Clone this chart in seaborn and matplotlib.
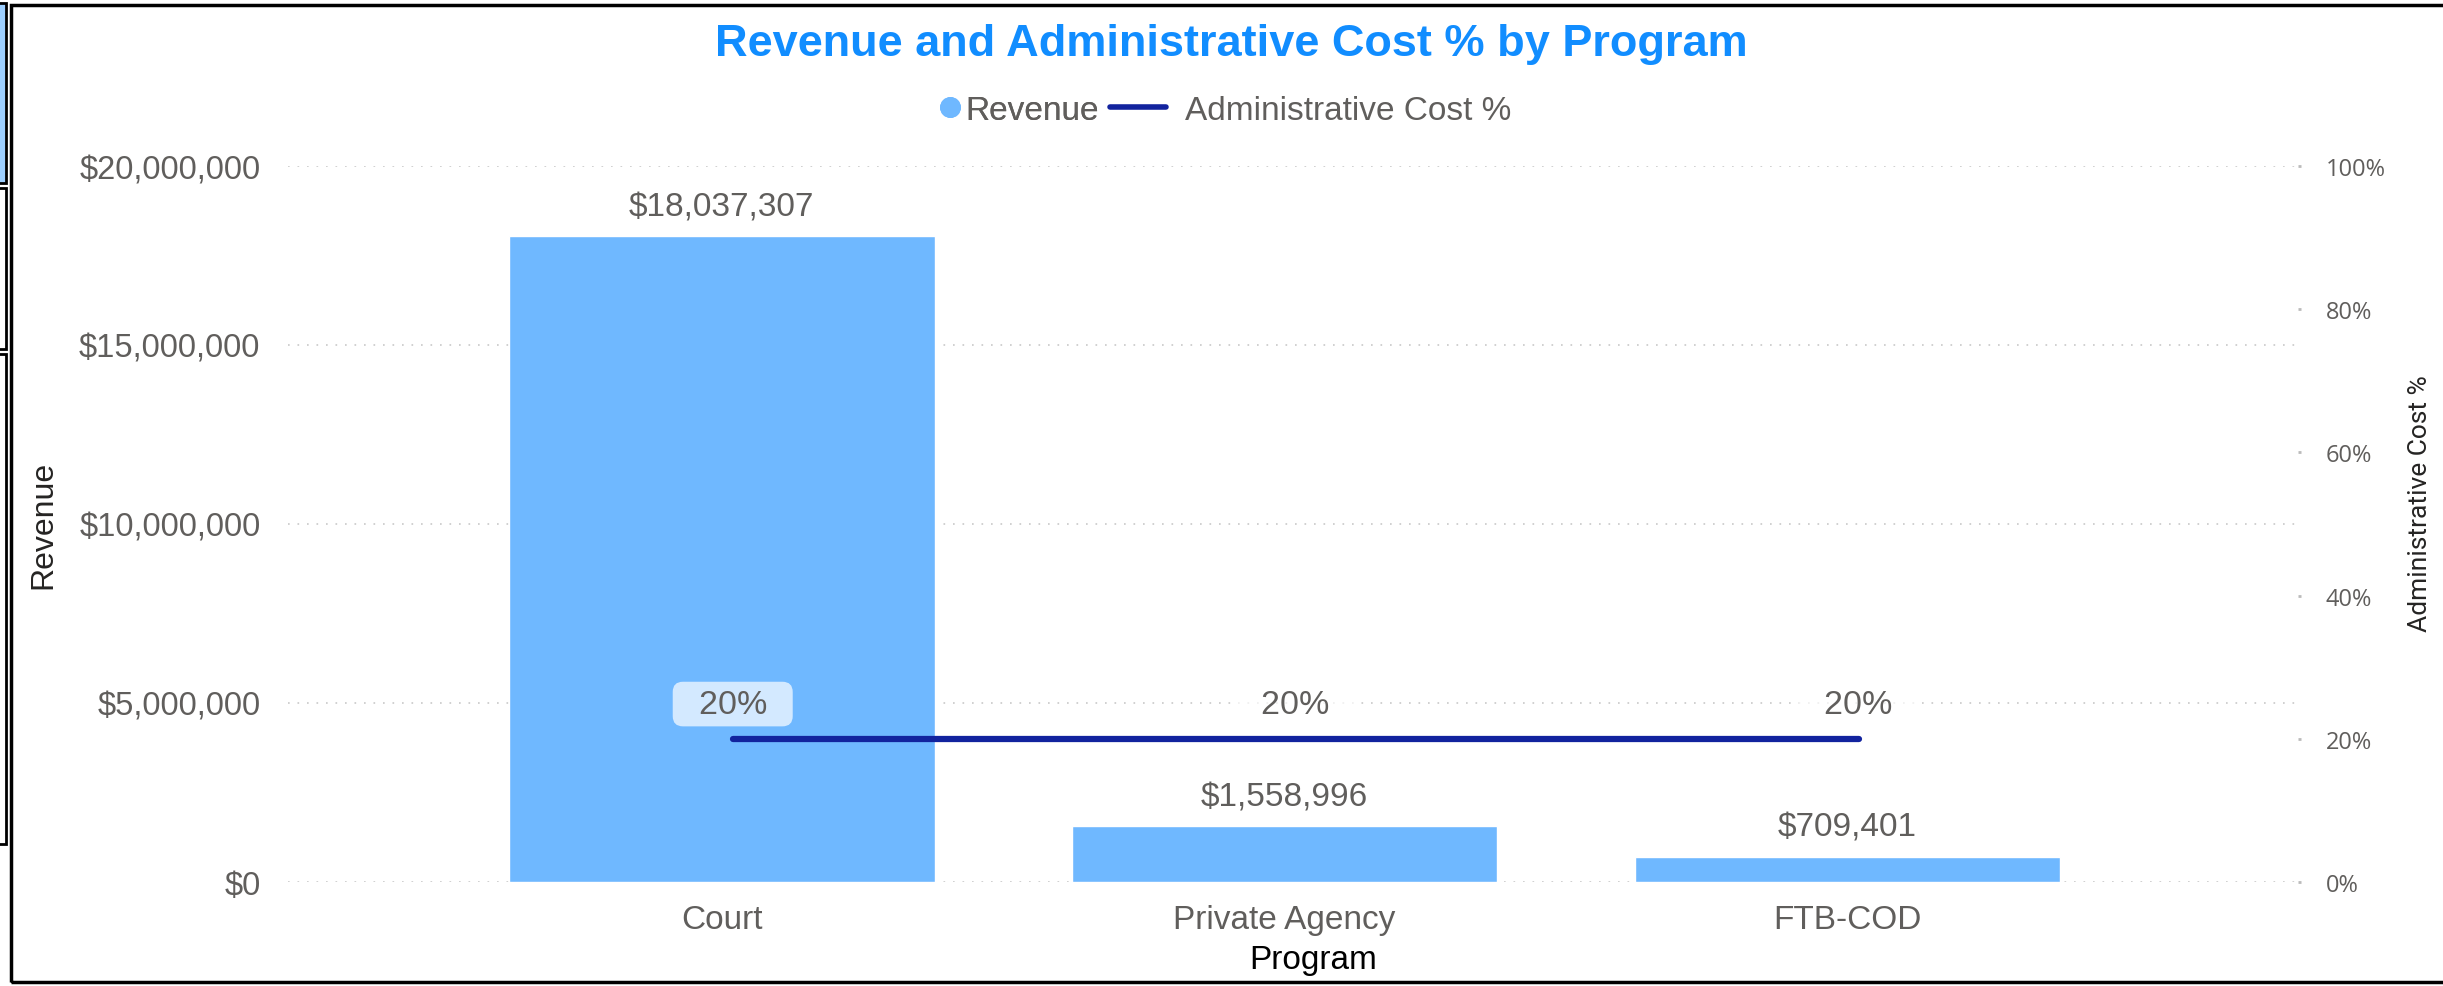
import numpy as np
import seaborn as sns
import matplotlib.pyplot as plt
from matplotlib.lines import Line2D
from matplotlib.patches import Rectangle
from matplotlib.ticker import FuncFormatter, MultipleLocator
from matplotlib.transforms import ScaledTranslation

# data
programs = ["Court", "Private Agency", "FTB-COD"]
revenue = [18037307, 1558996, 709401]
admin_pct = [0.20, 0.20, 0.20]

bar_color = "#6FB8FF"
line_color = "#12239E"
title_color = "#118DFF"
gray = "#605E5C"
dark = "#252423"

sns.set_style("white")
plt.rcParams['font.family'] = ['Liberation Sans', 'DejaVu Sans']

fig = plt.figure(figsize=(24.43, 9.87), dpi=100)
ax = fig.add_axes([0.118, 0.1054, 0.8226, 0.7254])

sns.barplot(x=programs, y=revenue, color=bar_color, width=0.756, saturation=1, ax=ax)
ax.set_xlim(-0.77, 2.80)
ax.set_ylim(0, 20000000)
ax.yaxis.set_major_locator(MultipleLocator(5000000))
ax.yaxis.set_major_formatter(FuncFormatter(lambda v, p: f"${v:,.0f}"))
ax.yaxis.grid(True, linestyle=(0, (1, 4.7)), color="#C8C8C8", lw=1.2)
ax.set_axisbelow(True)
ax.tick_params(axis='both', length=0, labelcolor=gray)
ax.tick_params(axis='x', pad=16, labelsize=24)
ax.tick_params(axis='y', pad=20, labelsize=23.5)
for s in ax.spines.values():
    s.set_visible(False)

ax.bar_label(ax.containers[0], labels=[f"${v:,.0f}" for v in revenue],
             padding=10, fontsize=24, color=gray)

ax.set_xlabel("Program", fontsize=24, color="black")
ax.xaxis.set_label_coords(0.51, -0.108)
ax.xaxis.label.set_va('center')
ax.set_ylabel("Revenue", fontsize=23, color=dark)
ax.yaxis.set_label_coords(-0.122, 0.5)
ax.yaxis.label.set_va('center')

# secondary axis: administrative cost % (the line sits slightly right of bar centres)
ax2 = ax.twinx()
shift = ax2.transData + ScaledTranslation(0.11, 0, fig.dpi_scale_trans)
sns.lineplot(x=np.arange(len(programs)), y=admin_pct, ax=ax2, color=line_color,
             lw=4.5, solid_capstyle='round')
ax2.lines[0].set_transform(shift)
ax2.set_ylim(0, 1)
ax2.yaxis.set_major_locator(MultipleLocator(0.2))
ax2.yaxis.set_major_formatter(FuncFormatter(lambda v, p: f"{v:.0%}"))
ax2.tick_params(axis='y', length=2, width=2, color="#BBBBBB", pad=18,
                labelsize=17, labelcolor=gray)
for lab in ax2.get_yticklabels():
    lab.set_family(['Open Sans', 'DejaVu Sans'])
for s in ax2.spines.values():
    s.set_visible(False)
ax2.set_ylabel("Administrative Cost %", fontsize=19, color=dark,
               family=['Roboto', 'DejaVu Sans'])
ax2.yaxis.set_label_coords(1.061, 0.53)
ax2.yaxis.label.set_va('center')

for i, v in enumerate(admin_pct):
    ax2.annotate(f"  {v:.0%}  ", (i, v), xycoords=shift, xytext=(0, 25),
                 textcoords='offset points', ha='center', va='center',
                 fontsize=24.5, color=gray,
                 bbox=dict(boxstyle='round,pad=0.2,rounding_size=0.3',
                           fc='white', alpha=0.7, ec='none'))

fig.text(0.504, 0.955, "Revenue and Administrative Cost % by Program",
         ha='center', va='center', fontsize=32.5, fontweight='bold', color=title_color)

# legend: two parts so the circle and the line get their own handle lengths
leg1 = fig.legend([Line2D([], [], marker='o', ls='none', color=bar_color, markersize=14)],
                  ["Revenue"], loc='center right', bbox_to_anchor=(0.4498, 0.8875),
                  frameon=False, fontsize=24, labelcolor=gray, handlelength=0.6,
                  handletextpad=0.15, borderpad=0, borderaxespad=0)
leg2 = fig.legend([Line2D([], [], color=line_color, lw=4)],
                  ["Administrative Cost %"], loc='center left', bbox_to_anchor=(0.4542, 0.8875),
                  frameon=False, fontsize=24, labelcolor=gray, handlelength=1.7,
                  handletextpad=0.55, borderpad=0, borderaxespad=0)
fig.add_artist(leg1)

# outer frame and neighbouring panel edges
fig.add_artist(Rectangle((0.0045, 0.004), 1.02, 0.99, transform=fig.transFigure,
                         fill=False, lw=2.5, ec='black'))
fig.add_artist(Rectangle((-0.01, 1 - 184 / 987), 0.0125, 180 / 987, transform=fig.transFigure,
                         fc='#9DCFFF', lw=2, ec='black'))
for y0, y1 in [(189, 350), (355, 845)]:
    fig.add_artist(Rectangle((-0.01, 1 - y1 / 987), 0.0125, (y1 - y0) / 987,
                             transform=fig.transFigure, fc='white', lw=2, ec='black'))

fig.savefig("out.png", dpi=100)
